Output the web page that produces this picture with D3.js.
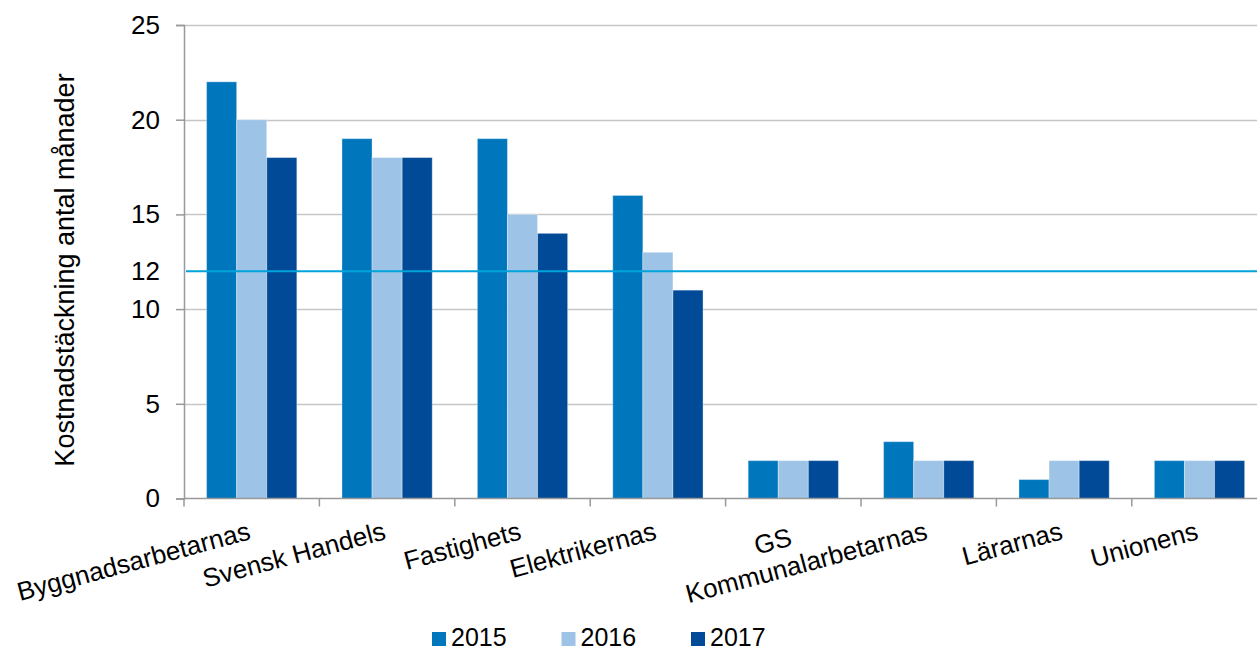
<!DOCTYPE html>
<html>
<head>
	<meta charset="utf-8" />
	<style>
		body {
			margin: 0;
			background: #fff;
			overflow: hidden;
		}
		svg {
			display: block;
			font-family: 'Liberation Sans', Arial, sans-serif;
		}
	</style>
</head>
<body>
	<div id="chart-area"></div>

	<script src="https://cdnjs.cloudflare.com/ajax/libs/d3/7.8.5/d3.min.js"></script>
	<script>
		// data
		var categories = [
			'Byggnadsarbetarnas',
			'Svensk Handels',
			'Fastighets',
			'Elektrikernas',
			'GS',
			'Kommunalarbetarnas',
			'Lärarnas',
			'Unionens',
		];
		var years = ['2015', '2016', '2017'];
		var values2015 = [22, 19, 19, 16, 2, 3, 1, 2];
		var values2016 = [20, 18, 15, 13, 2, 2, 2, 2];
		var values2017 = [18, 18, 14, 11, 2, 2, 2, 2];
		var yTicks = [0, 5, 10, 12, 15, 20, 25];
		var gridTicks = [5, 10, 15, 20, 25];
		var refValue = 12;
		var yTitle = 'Kostnadstäckning antal månader';

		var colors = ['#0077bd', '#9dc3e6', '#004a97'];

		var width = 1257,
			height = 652;
		var margins = { top: 25, left: 184, bottom: 154 };
		var plotBottom = height - margins.bottom + 0.5;

		var series = [values2015, values2016, values2017];
		var rows = categories.map((c, i) => ({
			cat: c,
			vals: years.map((y, j) => ({ year: y, value: series[j][i] })),
		}));

		var svg = d3
			.select('#chart-area')
			.append('svg')
			.attr('width', width)
			.attr('height', height);

		// the plot runs a little past the right edge of the picture
		var x0 = d3
			.scaleBand()
			.domain(categories)
			.range([margins.left, margins.left + 8 * 135.4]);

		var x1 = d3
			.scaleBand()
			.domain(years)
			.range([0, x0.bandwidth()])
			.paddingOuter(0.75);

		var y = d3.scaleLinear().domain([0, 25]).range([plotBottom, margins.top]);

		var color = d3.scaleOrdinal().domain(years).range(colors);

		// gridlines
		svg.append('g')
			.selectAll('line')
			.data(gridTicks)
			.join('line')
			.attr('x1', margins.left)
			.attr('x2', width)
			.attr('y1', d => Math.round(y(d)) + 0.5)
			.attr('y2', d => Math.round(y(d)) + 0.5)
			.attr('stroke', '#c6c6c6')
			.attr('stroke-width', 1.5);

		// bars
		svg.append('g')
			.selectAll('g')
			.data(rows)
			.join('g')
			.attr('transform', d => `translate(${x0(d.cat)},0)`)
			.selectAll('rect')
			.data(d => d.vals)
			.join('rect')
			.attr('x', d => x1(d.year))
			.attr('width', x1.bandwidth())
			.attr('y', d => y(d.value))
			.attr('height', d => y(0) - y(d.value))
			.attr('fill', d => color(d.year))
			.attr('stroke', 'rgba(255,255,255,0.35)')
			.attr('stroke-width', 1);

		// 12 month line
		svg.append('line')
			.attr('x1', margins.left + 2)
			.attr('x2', width)
			.attr('y1', y(refValue))
			.attr('y2', y(refValue))
			.attr('stroke', '#00a3da')
			.attr('stroke-width', 2);

		// y axis
		var yAxis = d3
			.axisLeft(y)
			.tickValues(yTicks)
			.tickSize(8)
			.tickPadding(16)
			.tickFormat(d3.format('d'));

		var gy = svg
			.append('g')
			.attr('transform', `translate(${margins.left},0)`)
			.call(yAxis);
		gy.select('.domain').attr('stroke', '#999').attr('stroke-width', 1.5);
		gy.selectAll('.tick line')
			.attr('stroke', '#999')
			.attr('stroke-width', 1.5)
			.attr('display', d => (d === 12 ? 'none' : null));
		gy.selectAll('.tick text')
			.attr('font-size', 26)
			.attr('fill', '#000');

		// x axis: ticks between the categories
		var boundaries = categories.map(c => x0(c)).concat([x0.range()[1]]);
		svg.append('line')
			.attr('x1', margins.left)
			.attr('x2', width)
			.attr('y1', plotBottom)
			.attr('y2', plotBottom)
			.attr('stroke', '#999')
			.attr('stroke-width', 1.5);
		svg.append('g')
			.selectAll('line')
			.data(boundaries)
			.join('line')
			.attr('x1', d => d)
			.attr('x2', d => d)
			.attr('y1', plotBottom)
			.attr('y2', plotBottom + 8)
			.attr('stroke', '#999')
			.attr('stroke-width', 1.5);

		svg.append('g')
			.selectAll('text')
			.data(categories)
			.join('text')
			.attr('transform', d => {
				var cx = x0(d) + x0.bandwidth() / 2;
				return `translate(${cx},${d === 'GS' ? 545 : 539}) rotate(-15)`;
			})
			.attr('text-anchor', 'end')
			.attr('font-size', 26)
			.attr('fill', '#000')
			.text(d => d);

		// y title
		svg.append('text')
			.attr('transform', 'translate(74,270) rotate(-90)')
			.attr('text-anchor', 'middle')
			.attr('font-size', 27)
			.attr('fill', '#000')
			.text(yTitle);

		// legend
		var legend = svg
			.append('g')
			.selectAll('g')
			.data(years)
			.join('g')
			.attr('transform', (d, i) => `translate(${432 + i * 129.5},632)`);
		legend
			.append('rect')
			.attr('width', 14)
			.attr('height', 14)
			.attr('fill', d => color(d));
		legend
			.append('text')
			.attr('x', 19)
			.attr('y', 14)
			.attr('font-size', 25)
			.attr('fill', '#000')
			.text(d => d);
	</script>
</body>
</html>
